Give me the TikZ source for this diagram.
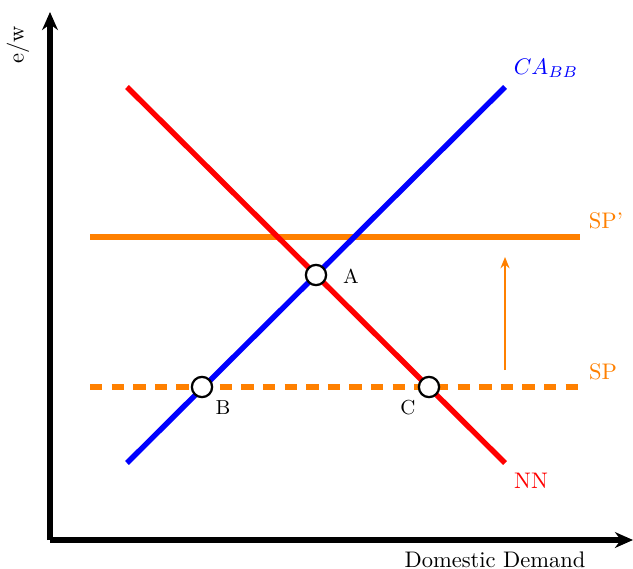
\documentclass[tikz,border=0pt]{standalone}
\usetikzlibrary{arrows.meta}
\definecolor{sporange}{RGB}{255,128,0}
\begin{document}
\begin{tikzpicture}[x=0.444pt,y=-0.444pt,
  axis/.style={line width=2.4pt,-{Stealth[length=8pt,width=7pt]}},
  curve/.style={line width=2.4pt},
  pt/.style={circle,draw=black,fill=white,line width=1pt,minimum size=9pt,inner sep=0pt},
  lbl/.style={font=\small}]
\useasboundingbox (0,0) rectangle (633,569);
% axes
\coordinate (O) at (50,540);
\coordinate (Ytop) at (50,12);
\coordinate (Xend) at (633,540);
\draw[axis] (O) -- (Ytop);
\draw[axis] (O) -- (Xend);
\node[rotate=90] at (18,45) {e/w};
\node at (495,560) {Domestic Demand};
% curve endpoints
\coordinate (r1) at (127,87);
\coordinate (r2) at (505,463);
\coordinate (b1) at (127,463);
\coordinate (b2) at (505,87);
\coordinate (s1) at (90,237);
\coordinate (s2) at (580,237);
\coordinate (d1) at (90,387);
\coordinate (d2) at (580,387);
\draw[curve,sporange] (s1) -- (s2);
\draw[curve,sporange,dash pattern=on 5.5pt off 4.1pt] (d1) -- (d2);
\draw[curve,red] (r1) -- (r2);
\draw[curve,blue] (b1) -- (b2);
% shift arrow
\coordinate (a1) at (505,370);
\coordinate (a2) at (505,257);
\draw[sporange,line width=0.9pt,-{Stealth[length=5pt,width=4pt]}] (a1) -- (a2);
% points
\node[pt] (A) at (316,275) {};
\node[pt] (B) at (202,387) {};
\node[pt] (C) at (429,387) {};
\node[lbl] at (351,276) {A};
\node[lbl] at (223,408) {B};
\node[lbl] at (408,408) {C};
% labels
\node[blue] at (546,68) {$CA_{BB}$};
\node[sporange] at (606,221) {SP'};
\node[sporange] at (603,372) {SP};
\node[red] at (531,481) {NN};
\end{tikzpicture}
\end{document}
